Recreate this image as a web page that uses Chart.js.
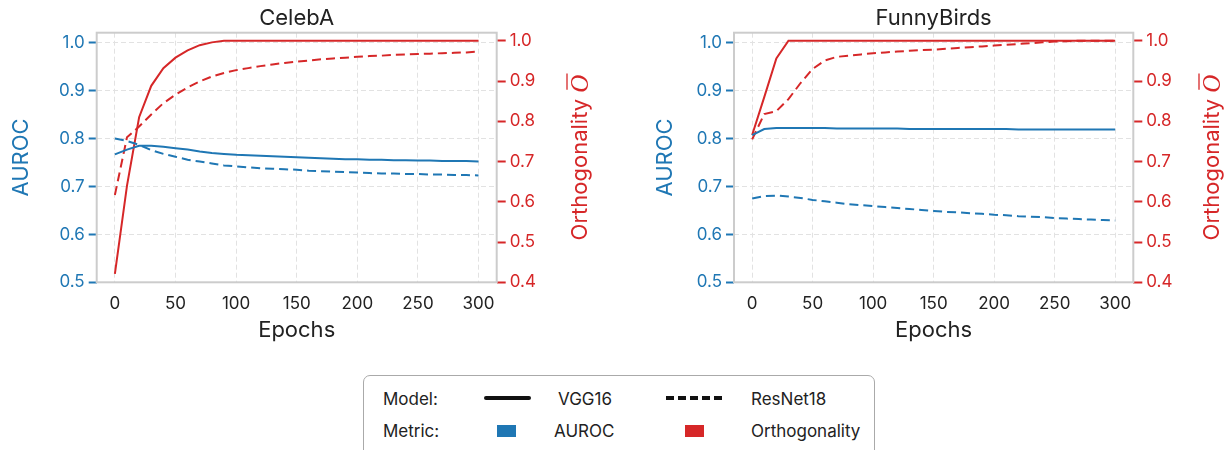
<!DOCTYPE html>
<html>
<head>
<meta charset="utf-8">
<script src="https://cdn.jsdelivr.net/npm/chart.js@4.4.1/dist/chart.umd.min.js"></script>
<style>
  html, body { margin: 0; padding: 0; background: #fff; }
  body { width: 1229px; height: 450px; position: relative; overflow: hidden; font-family: Inter, "DejaVu Sans", sans-serif; }
  canvas { position: absolute; top: 0; }
  #c1 { left: 0; }
  #c2 { left: 614px; }
  .legend {
    position: absolute; left: 363px; top: 375px; width: 512px; height: 90px;
    border: 1.5px solid #aaa; border-radius: 7px; box-sizing: border-box;
    color: #222; font-size: 17px;
  }
  .legend span { position: absolute; line-height: 20px; white-space: nowrap; }
  .legend i { position: absolute; display: block; }
</style>
</head>
<body>
<canvas id="c1" width="614" height="350"></canvas>
<canvas id="c2" width="615" height="350"></canvas>

<div class="legend">
  <span style="left:19px; top:13px">Model:</span>
  <i style="left:120px; top:20px; width:47px; height:4px; background:#111; border-radius:2px"></i>
  <span style="left:194px; top:13px">VGG16</span>
  <i style="left:302px; top:20px; width:56px; height:0; border-top:4px dashed #111"></i>
  <span style="left:387px; top:13px">ResNet18</span>
  <span style="left:19px; top:45px">Metric:</span>
  <i style="left:133px; top:49px; width:19px; height:12px; background:#1f77b4"></i>
  <span style="left:190px; top:45px">AUROC</span>
  <i style="left:321px; top:49px; width:19px; height:12px; background:#d62728"></i>
  <span style="left:387px; top:45px">Orthogonality</span>
</div>

<script>
  /* ── Data ── */
  const epochs = [0, 10, 20, 30, 40, 50, 60, 70, 80, 90, 100, 110, 120, 130, 140, 150,
                  160, 170, 180, 190, 200, 210, 220, 230, 240, 250, 260, 270, 280, 290, 300];
  const xTicks = [0, 50, 100, 150, 200, 250, 300];
  const aurocTicks = [0.5, 0.6, 0.7, 0.8, 0.9, 1.0];
  const orthoTicks = [0.4, 0.5, 0.6, 0.7, 0.8, 0.9, 1.0];

  // CelebA
  const celebaVggAuroc = [0.767, 0.777, 0.785, 0.785, 0.783, 0.780, 0.777, 0.773, 0.770, 0.768, 0.766,
                          0.765, 0.764, 0.763, 0.762, 0.761, 0.760, 0.759, 0.758, 0.757, 0.757,
                          0.756, 0.756, 0.755, 0.755, 0.754, 0.754, 0.753, 0.753, 0.753, 0.752];
  const celebaResAuroc = [0.800, 0.795, 0.787, 0.776, 0.768, 0.762, 0.756, 0.752, 0.748, 0.744, 0.742,
                          0.740, 0.738, 0.737, 0.736, 0.735, 0.733, 0.732, 0.731, 0.730, 0.729,
                          0.728, 0.727, 0.727, 0.726, 0.726, 0.725, 0.725, 0.724, 0.724, 0.723];
  const celebaVggOrtho = [0.421, 0.640, 0.810, 0.888, 0.932, 0.958, 0.976, 0.989, 0.996, 1.0, 1.0,
                          1.0, 1.0, 1.0, 1.0, 1.0, 1.0, 1.0, 1.0, 1.0, 1.0,
                          1.0, 1.0, 1.0, 1.0, 1.0, 1.0, 1.0, 1.0, 1.0, 1.0];
  const celebaResOrtho = [0.617, 0.760, 0.787, 0.817, 0.845, 0.866, 0.884, 0.899, 0.911, 0.920, 0.927,
                          0.932, 0.937, 0.941, 0.945, 0.948, 0.951, 0.954, 0.956, 0.958, 0.960,
                          0.962, 0.963, 0.965, 0.966, 0.967, 0.968, 0.969, 0.970, 0.971, 0.973];

  // FunnyBirds
  const birdsVggAuroc = [0.807, 0.820, 0.822, 0.822, 0.822, 0.822, 0.822, 0.821, 0.821, 0.821, 0.821,
                         0.821, 0.821, 0.820, 0.820, 0.820, 0.820, 0.820, 0.820, 0.820, 0.820,
                         0.820, 0.819, 0.819, 0.819, 0.819, 0.819, 0.819, 0.819, 0.819, 0.819];
  const birdsResAuroc = [0.675, 0.680, 0.681, 0.679, 0.676, 0.672, 0.669, 0.666, 0.663, 0.661, 0.659,
                         0.657, 0.655, 0.653, 0.651, 0.649, 0.647, 0.646, 0.644, 0.643, 0.641,
                         0.640, 0.638, 0.637, 0.636, 0.634, 0.633, 0.632, 0.631, 0.630, 0.629];
  const birdsVggOrtho = [0.766, 0.860, 0.956, 1.0, 1.0, 1.0, 1.0, 1.0, 1.0, 1.0, 1.0,
                         1.0, 1.0, 1.0, 1.0, 1.0, 1.0, 1.0, 1.0, 1.0, 1.0,
                         1.0, 1.0, 1.0, 1.0, 1.0, 1.0, 1.0, 1.0, 1.0, 1.0];
  const birdsResOrtho = [0.755, 0.818, 0.825, 0.855, 0.895, 0.930, 0.951, 0.960, 0.963, 0.966, 0.969,
                         0.971, 0.973, 0.975, 0.977, 0.978, 0.980, 0.982, 0.984, 0.986, 0.988,
                         0.990, 0.992, 0.994, 0.996, 0.998, 0.999, 1.0, 1.0, 1.0, 1.0];

  /* ── Styles ── */
  const BLUE = '#1f77b4';
  const RED = '#d62728';
  const FONT = 'Inter, "DejaVu Sans", sans-serif';
  const GRID = '#e2e2e2';

  const pts = arr => arr.map((v, i) => ({ x: epochs[i], y: v }));

  function line(data, color, axis, dashed) {
    return {
      data: pts(data), yAxisID: axis,
      borderColor: color, borderWidth: 2,
      borderDash: dashed ? [9, 5] : [],
      pointRadius: 0, tension: 0, fill: false,
    };
  }

  /* box around plot, panel title and axis titles */
  const frame = {
    id: 'frame',
    afterDraw(chart, args, o) {
      const { ctx, chartArea: a } = chart;
      ctx.save();
      ctx.strokeStyle = '#cccccc';
      ctx.lineWidth = 2;
      ctx.strokeRect(a.left, a.top, a.right - a.left, a.bottom - a.top);

      // panel title, centred over the plot box
      ctx.fillStyle = '#222';
      ctx.font = '22px ' + FONT;
      ctx.textAlign = 'center';
      ctx.textBaseline = 'middle';
      ctx.fillText(o.title, (a.left + a.right) / 2, 18);

      const midY = (a.top + a.bottom) / 2;
      // left title
      ctx.translate(o.leftX, midY);
      ctx.rotate(-Math.PI / 2);
      ctx.fillStyle = BLUE;
      ctx.font = '22px ' + FONT;
      ctx.fillText('AUROC', 0, 0);
      ctx.restore();

      // right title with italic O and bar
      ctx.save();
      ctx.translate(o.rightX, midY);
      ctx.rotate(-Math.PI / 2);
      ctx.fillStyle = RED;
      ctx.strokeStyle = RED;
      ctx.textBaseline = 'middle';
      ctx.textAlign = 'left';
      const f1 = '22px ' + FONT;
      const f2 = 'italic 25px "Liberation Serif", "DejaVu Serif", serif';
      ctx.font = f1;
      const t1 = 'Orthogonality ';
      const w1 = ctx.measureText(t1).width;
      ctx.font = f2;
      const w2 = ctx.measureText('O').width;
      const x0 = -(w1 + w2) / 2;
      ctx.font = f1;
      ctx.fillText(t1, x0, 0);
      ctx.font = f2;
      ctx.fillText('O', x0 + w1, 1);
      ctx.lineWidth = 1.3;
      ctx.beginPath();
      ctx.moveTo(x0 + w1 + 3, -13);
      ctx.lineTo(x0 + w1 + w2 + 1, -13);
      ctx.stroke();
      ctx.restore();
    }
  };

  function makeChart(id, title, sets, g) {
    return new Chart(document.getElementById(id), {
      type: 'line',
      data: {
        datasets: [
          line(sets.vggAuroc, BLUE, 'y', false),
          line(sets.resAuroc, BLUE, 'y', true),
          line(sets.vggOrtho, RED, 'y2', false),
          line(sets.resOrtho, RED, 'y2', true),
        ],
      },
      options: {
        responsive: false,
        animation: false,
        layout: { padding: { top: 32.7 } },
        plugins: {
          legend: { display: false },
          tooltip: { enabled: false },
          title: { display: false },
          frame: { title: title, leftX: g.leftX, rightX: g.rightX },
        },
        scales: {
          x: {
            type: 'linear', min: -15, max: 315,
            afterBuildTicks: s => { s.ticks = xTicks.map(v => ({ value: v })); },
            afterFit: s => { s.height = 67.7; },
            grid: { color: GRID, lineWidth: 1, drawTicks: false },
            border: { display: false, dash: [5, 3] },
            ticks: { color: '#222', padding: 11, font: { family: FONT, size: 17 } },
            title: {
              display: true, text: 'Epochs', color: '#222',
              font: { family: FONT, size: 22 }, padding: { bottom: 6 },
            },
          },
          y: {
            position: 'left', min: 0.5, max: 1.021,
            afterBuildTicks: s => { s.ticks = aurocTicks.map(v => ({ value: v })); },
            afterFit: s => { s.width = g.leftW; },
            grid: { color: GRID, lineWidth: 1, tickLength: 8, tickColor: BLUE, tickWidth: 2, tickBorderDash: [] },
            border: { display: false, dash: [5, 3] },
            ticks: { color: BLUE, padding: 4, font: { family: FONT, size: 17 }, callback: v => v.toFixed(1) },
          },
          y2: {
            position: 'right', min: 0.4, max: 1.02,
            afterBuildTicks: s => { s.ticks = orthoTicks.map(v => ({ value: v })); },
            afterFit: s => { s.width = g.rightW; },
            grid: { drawOnChartArea: false, tickLength: 9, tickColor: RED, tickWidth: 2, tickBorderDash: [] },
            border: { display: false },
            ticks: { color: RED, padding: 4, font: { family: FONT, size: 17 }, callback: v => v.toFixed(1) },
          },
        },
      },
      plugins: [frame],
    });
  }

  makeChart('c1', 'CelebA', {
    vggAuroc: celebaVggAuroc, resAuroc: celebaResAuroc,
    vggOrtho: celebaVggOrtho, resOrtho: celebaResOrtho,
  }, { leftW: 96.7, rightW: 117.3, leftX: 21, rightX: 580 });

  makeChart('c2', 'FunnyBirds', {
    vggAuroc: birdsVggAuroc, resAuroc: birdsResAuroc,
    vggOrtho: birdsVggOrtho, resOrtho: birdsResOrtho,
  }, { leftW: 120, rightW: 95.7, leftX: 51, rightX: 598 });
</script>
</body>
</html>
